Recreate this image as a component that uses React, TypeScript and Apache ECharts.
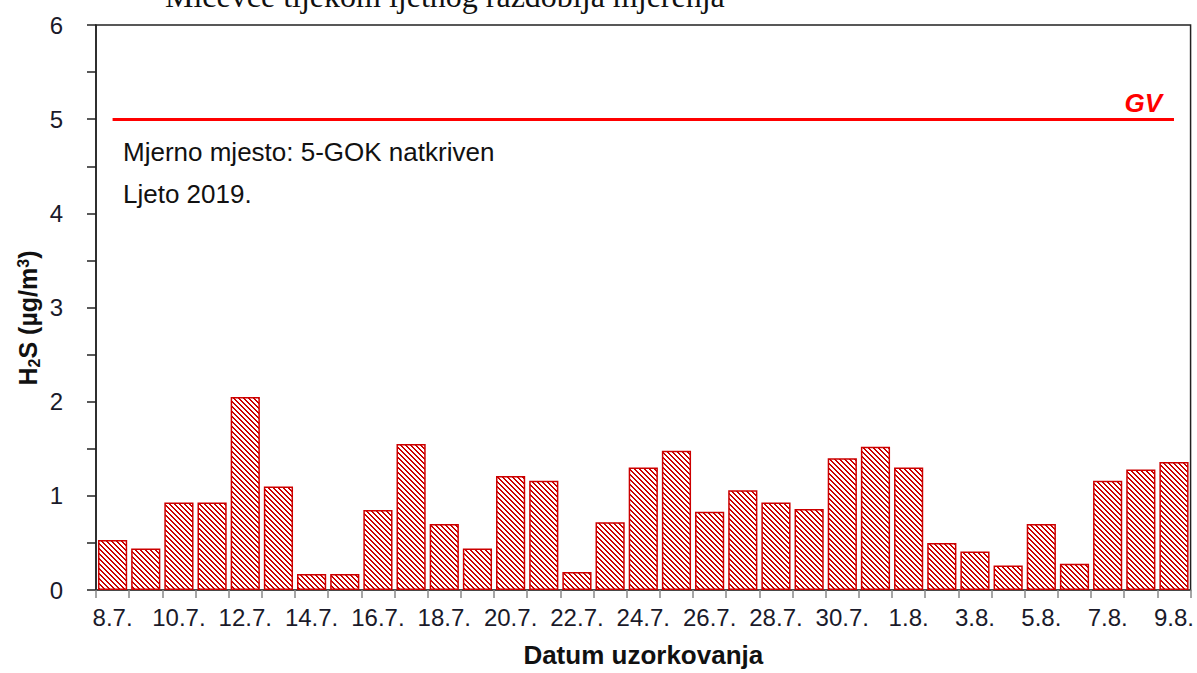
import React, { useEffect, useRef } from "react";
import * as echarts from "echarts";

const categories = [
  "8.7.", "9.7.", "10.7.", "11.7.", "12.7.", "13.7.", "14.7.", "15.7.", "16.7.", "17.7.",
  "18.7.", "19.7.", "20.7.", "21.7.", "22.7.", "23.7.", "24.7.", "25.7.", "26.7.", "27.7.",
  "28.7.", "29.7.", "30.7.", "31.7.", "1.8.", "2.8.", "3.8.", "4.8.", "5.8.", "6.8.",
  "7.8.", "8.8.", "9.8.",
];
const h2sValues = [
  0.53, 0.44, 0.93, 0.93, 2.05, 1.10, 0.17, 0.17, 0.85, 1.55,
  0.70, 0.44, 1.21, 1.16, 0.19, 0.72, 1.30, 1.48, 0.83, 1.06,
  0.93, 0.86, 1.40, 1.52, 1.30, 0.50, 0.41, 0.26, 0.70, 0.28,
  1.16, 1.28, 1.36,
];
const limitValue = 5;
const limitLabel = "GV";
const yMin = 0;
const yMax = 6;
const yInterval = 1;
const xAxisTitle = "Datum uzorkovanja";
const noteLines = ["Mjerno mjesto: 5-GOK natkriven", "Ljeto 2019."];
const clippedHeading = "Mićevće tijekom ljetnog razdoblja mjerenja";

function makeHatch(): HTMLCanvasElement {
  const n = 5;
  const c = document.createElement("canvas");
  c.width = n;
  c.height = n;
  const ctx = c.getContext("2d")!;
  ctx.fillStyle = "#ffffff";
  ctx.fillRect(0, 0, n, n);
  ctx.fillStyle = "#cc0000";
  for (let y = 0; y < n; y++) {
    for (let x = 0; x < n; x++) {
      const d = (((x - y) % n) + n) % n;
      if (d === 0 || d === 1) ctx.fillRect(x, y, 1, 1);
    }
  }
  return c;
}

export default function App() {
  const ref = useRef<HTMLDivElement>(null);
  useEffect(() => {
    if (!ref.current) return;
    const chart = echarts.init(ref.current, undefined, { renderer: "svg" });
    const hatch = makeHatch();
    chart.setOption({
      animation: false,
      backgroundColor: "#ffffff",
      grid: {
        left: 96,
        right: 6,
        top: 25,
        bottom: 82,
        show: true,
        borderColor: "#222",
        borderWidth: 1.5,
      },
      xAxis: {
        type: "category",
        data: categories,
        boundaryGap: true,
        axisLine: { show: true, lineStyle: { color: "#444", width: 1.5 } },
        axisTick: { show: true, interval: 0, length: 8, lineStyle: { color: "#888", width: 1.5 } },
        axisLabel: {
          interval: 1,
          fontFamily: "Arial, Liberation Sans",
          fontSize: 24,
          color: "#1a1a2a",
          margin: 15,
        },
        name: xAxisTitle,
        nameLocation: "middle",
        nameGap: 52,
        nameTextStyle: {
          fontFamily: "Arial, Liberation Sans",
          fontSize: 26,
          fontWeight: "bold",
          color: "#111",
        },
      },
      yAxis: {
        type: "value",
        min: yMin,
        max: yMax,
        interval: yInterval,
        splitLine: { show: false },
        axisLine: { show: true, lineStyle: { color: "#222", width: 1.5 } },
        axisTick: { show: true, inside: false, length: 9, lineStyle: { color: "#222", width: 1.5 } },
        minorTick: { show: true, splitNumber: 2, length: 9, lineStyle: { color: "#222", width: 1.5 } },
        axisLabel: {
          fontFamily: "Arial, Liberation Sans",
          fontSize: 24,
          color: "#1a1a2a",
          margin: 33,
        },
      },
      series: [
        {
          type: "bar",
          data: h2sValues,
          barCategoryGap: "12%",
          itemStyle: {
            color: { image: hatch, repeat: "repeat" },
            borderColor: "#cc0000",
            borderWidth: 1.5,
          },
          markLine: {
            silent: true,
            symbol: ["none", "none"],
            label: { show: false },
            lineStyle: { color: "#ff0000", width: 3, type: "solid" },
            data: [
              [
                { coord: [categories[0], limitValue] },
                { coord: [categories[categories.length - 1], limitValue] },
              ],
            ],
          },
        },
      ],
      graphic: [
        {
          type: "text",
          x: 165,
          y: -4,
          style: {
            text: clippedHeading,
            fontFamily: "Liberation Serif, Times New Roman, serif",
            fontSize: 32,
            fill: "#111",
            align: "left",
            verticalAlign: "middle",
          },
        },
        {
          type: "text",
          x: 1162,
          y: 103,
          style: {
            text: limitLabel,
            fontFamily: "Arial, Liberation Sans",
            fontSize: 26,
            fontWeight: "bold",
            fontStyle: "italic",
            fill: "#ff0000",
            align: "right",
            verticalAlign: "middle",
          },
        },
        {
          type: "text",
          x: 123,
          y: 152,
          style: {
            text: noteLines[0],
            fontFamily: "Arial, Liberation Sans",
            fontSize: 26,
            fill: "#111",
            align: "left",
            verticalAlign: "middle",
          },
        },
        {
          type: "text",
          x: 123,
          y: 194,
          style: {
            text: noteLines[1],
            fontFamily: "Arial, Liberation Sans",
            fontSize: 26,
            fill: "#111",
            align: "left",
            verticalAlign: "middle",
          },
        },
        {
          type: "text",
          x: 28,
          y: 318,
          rotation: Math.PI / 2,
          style: {
            text: "{a|H}{s|2}{a|S (µg/m}{p|3}{a|)}",
            align: "center",
            verticalAlign: "middle",
            fill: "#111",
            rich: {
              a: { fontFamily: "Arial, Liberation Sans", fontSize: 25, fontWeight: "bold", fill: "#111" },
              s: { fontFamily: "Arial, Liberation Sans", fontSize: 16, fontWeight: "bold", fill: "#111", padding: [12, 0, 0, 0] },
              p: { fontFamily: "Arial, Liberation Sans", fontSize: 16, fontWeight: "bold", fill: "#111", padding: [0, 0, 10, 0] },
            },
          },
        },
      ],
    });
    return () => chart.dispose();
  }, []);
  return (
    <div
      ref={ref}
      style={{ position: "fixed", left: 0, top: 0, width: 1197, height: 673 }}
    />
  );
}
